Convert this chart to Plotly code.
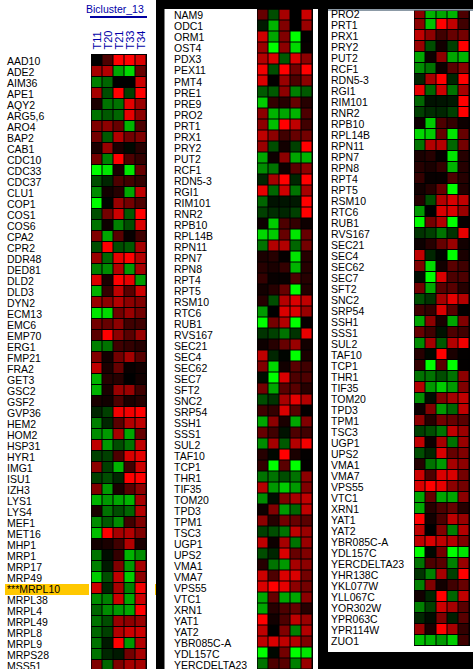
import plotly.graph_objects as go

W, H = 473, 669

columns = ["T11", "T20", "T21", "T33", "T34"]

genes_1 = ["AAD10","ADE2","AIM36","APE1","AQY2","ARG5,6","ARO4","BAP2","CAB1","CDC10","CDC33","CDC37","CLU1","COP1","COS1","COS6","CPA2","CPR2","DDR48","DED81","DLD2","DLD3","DYN2","ECM13","EMC6","EMP70","ERG1","FMP21","FRA2","GET3","GSC2","GSF2","GVP36","HEM2","HOM2","HSP31","HYR1","IMG1","ISU1","IZH3","LYS1","LYS4","MEF1","MET16","MHP1","MRP1","MRP17","MRP49","***MRPL10","MRPL38","MRPL4","MRPL49","MRPL8","MRPL9","MRPS28","MSS51"]

values_1 = [
[0,3,10,10,8.5],[6.5,7,-6.5,-8.5,4],[-5,-4,0,0,8],[6.5,-3,10,-2.5,10],[1,-4.5,-4.5,9,6],
[-4.5,-3.5,-4,9,5.5],[5,5.5,4,-7,3],[4.5,-3.5,7,4.5,5],[1,6,1,-0.3,1.5],[4.5,-5,10,3,2],
[-10,-9,1,-9,4],[-3,-1.5,3,2.5,2],[-5.5,0.7,1.5,-6.5,7.5],[-10,-0.2,6,4.5,3],[-3,4.5,8,-3.5,10],
[-4.5,0.5,-5,-3,8.5],[5,-6.5,3.5,0.3,2.5],[-3,10,-3,-3.5,6.5],[6,-4,9,10,7],[-5,-5.5,7,-6,6.5],
[8.5,1,10,9,-6],[-7,2,7.5,3.5,8],[6,5.5,7,5.5,5],[-9,-8.5,4.5,6,4.5],[4.5,4,5.5,2.5,2.5],
[3.5,10,5.5,3.5,6],[-5,-4.5,2.5,2,1.5],[5,0.7,4.5,6.5,3.5],[7.5,1,4,0.3,0.7],[-7,1.5,1.5,0,0.7],
[-7,1,6,6,2.5],[1,0.7,3,1,1.5],[-1.5,-2.5,9.5,9.5,10],[-5,-1.5,3.5,7,7.5],[-5.5,-6,6.5,-6.5,4],
[7.5,-6,-3,-4.5,7.5],[-2.5,-2.5,3,8.5,9],[5.5,-2.5,-7,2.5,8],[-2.5,-3,-1.5,10,10],[5,-6,1,3.5,5.5],
[-7,-6,-6.5,-7,6.5],[1,-4.5,-3,-4,7],[-5.5,-3.5,-5.5,2.5,5],[-7.5,10,6.5,7,5],[0.7,1,2.5,7,1],
[-4.5,-0.5,2,-7,-5.5],[-5,-1,5,-6,6.5],[-8,-3,7.5,-8,5.5],[8,-1.5,6.5,-5,9.5],[-5.5,-5,8,-6.5,8],
[-4,-5.5,-6,-6.5,10],[-4.5,-3,6,5.5,6],[-4,-2.5,7,8,8],[-4.5,-1,10,-6,7],[-4.5,-1.5,-1,4.5,6.5],
[5,-4,5,6.5,6.5],
]

genes_2 = ["NAM9","ODC1","ORM1","OST4","PDX3","PEX11","PMT4","PRE1","PRE9","PRO2","PRT1","PRX1","PRY2","PUT2","RCF1","RDN5-3","RGI1","RIM101","RNR2","RPB10","RPL14B","RPN11","RPN7","RPN8","RPT4","RPT5","RSM10","RTC6","RUB1","RVS167","SEC21","SEC4","SEC62","SEC7","SFT2","SNC2","SRP54","SSH1","SSS1","SUL2","TAF10","TCP1","THR1","TIF35","TOM20","TPD3","TPM1","TSC3","UGP1","UPS2","VMA1","VMA7","VPS55","VTC1","XRN1","YAT1","YAT2","YBR085C-A","YDL157C","YERCDELTA23"]

values_2 = [
[4,-3,6.5,0,8],[-1,-7,5,0,6],[8,-6.5,5,-10,0.1],[6,-10,5.5,-8.5,0.3],[7,8.5,-3.5,8.5,5.5],
[9.5,-3,10,4.5,10],[8.5,0.1,6,3,5.5],[-3.5,-3.5,5.5,-5,-3.5],[-8,2,1.5,4,1.5],[5.5,-7,-6.5,-7,3],
[5.5,-7.5,10,7.5,2.5],[7.5,5.5,2.5,4,4.5],[6,-3,0.7,-2.5,10],[-6.5,0.5,5.5,-6.5,-7],[-5.5,-4.5,0.5,3.5,5.5],
[-1.5,6.5,10,-1.5,10],[9,-4,8,-4.5,6.5],[-4,-0.7,-0.8,-1,10],[-2.5,-1.7,-1.5,-2.5,10],[0.5,-8,3,2,0.5],
[-8.5,-8,4,-9,4],[-4.5,7,7,-4,4.5],[1,1.5,0.2,-9,1.5],[1.5,1,2,-7,1.5],[2,0.3,0.3,3,1.5],
[0.7,1.5,4,-10,1.3],[1.5,-3,7,8.5,7.5],[-6,0,8.5,8.5,6],[-10,4.5,7,-10,0.2],[-2,-2.5,-4.5,-2,9],
[0.5,1.5,4,6,0.7],[7.5,-1.5,-0.2,-10,1],[5,-8.5,0.7,3.5,2.5],[-0.5,-10,8.5,3,3],[4.5,-6.5,3.5,3.5,1.5],
[-3,-2,6.5,9,7],[2.5,2,8.5,3.5,0.1],[-6.5,5.5,1,-6.5,5],[4,2.5,-0.7,3,2.5],[-5.5,6.5,-3.5,7,9.5],
[1.5,-0.3,10,1,0.1],[2,-10,3.5,-10,0.1],[-4.5,-4.5,-3,-4.5,5.5],[7,-6,-8,-6,5],[-5.5,-0.5,5,6.5,7.5],
[0.5,5,-6,-4,7.5],[5.5,1.5,4.5,4,3.5],[-2.5,-3,-4.5,7.5,6],[7.5,0.5,6.5,-4.5,6],[-3,-1.5,8.5,4,5],
[1.5,-4.5,-6,6.5,5.5],[8,3,8.5,8.5,4.5],[8.5,10,9,5.5,4.5],[-6.5,4,-6.5,-6.5,5.5],[-6.5,1.5,3,4,1.5],
[10,0.7,3,7.5,6],[7.5,0,5,-5,7],[7.5,8.5,7.5,7,5],[-10,-0.3,4.5,-10,-9],[-4.5,3,3.5,-5,6],
]

genes_3_extra = ["YHR138C","YKL077W","YLL067C","YOR302W","YPR063C","YPR114W","ZUO1"]

values_3_extra = [
[-2,-5,6.5,-2.5,10],[-5,5,0.7,2.5,4],[0.7,-1.5,10,-4,7.5],[-5,-2.5,8,6.5,3.5],
[-1.5,-0.5,5,-1.2,3.5],[6,1,10,6.5,2],[-7.5,-7,-6,-8,2.5],
]

genes_3 = genes_2[9:] + genes_3_extra
values_3 = values_2[9:] + values_3_extra

bicluster_title = "Bicluster_13"

BLUE = "#0000A8"
scale = [[0, "#00FF00"], [0.5, "#000000"], [1, "#FF0000"]]
FONT = "Liberation Sans"


def px(x):
    return x / W


def py(y):
    return 1 - y / H


def rect(x0, y0, x1, y1, color, layer="below"):
    return dict(type="rect", xref="paper", yref="paper", x0=px(x0), x1=px(x1),
                y0=py(y0), y1=py(y1), fillcolor=color, line_width=0, layer=layer)


# panel geometry: matrix x0, x1, y top, y bottom, range top, range bottom, label x
panels = [
    (genes_1, values_1, 91.5, 146.5, 55, 669, -0.5, 55.318, 7),
    (genes_2, values_2, 257.5, 312.5, 9.5, 669, -0.5, 59.45, 173.5),
    (genes_3, values_3, 414.5, 469.5, 11, 645.5, -0.227, 57.5, 330.5),
]

fig = go.Figure()
shapes = [
    rect(0, 0, 156, 669, "#FFFFFF"),
    rect(164.5, 9, 318, 669, "#FFFFFF"),
    rect(328, 11, 473, 652, "#FFFFFF"),
    rect(328, 9, 473, 11, "#8C9AA6"),
    rect(5, 584, 89, 595, "#FFC800"),
    rect(155, 584, 156, 595, "#FFC800"),
    rect(90, 16, 147, 18, "#0000A0"),
]
annotations = [dict(text=bicluster_title, xref="paper", yref="paper", x=px(114.5), y=py(8.5),
                    xanchor="center", yanchor="middle", showarrow=False,
                    font=dict(family=FONT, size=10.5, color=BLUE))]

for i, (genes, vals, x0, x1, yt, yb, r0, r1, lx) in enumerate(panels):
    n = "" if i == 0 else str(i + 1)
    shapes.append(rect(x0 - 0.5, yt - (0.5 if i else 1), x1 + 0.5, min(yb + 0.5, H), "#000000"))
    fig.add_trace(go.Heatmap(z=vals, x=columns, y=genes, zmin=-10, zmax=10, colorscale=scale,
                             showscale=False, xgap=1, ygap=1, hoverongaps=False,
                             xaxis="x" + n, yaxis="y" + n))
    fig.update_layout(**{
        "xaxis" + n: dict(domain=[px(x0), px(x1)], visible=False, type="category",
                          range=[-0.5, 4.5], anchor="y" + n),
        "yaxis" + n: dict(domain=[py(yb), py(yt)], visible=False, type="category",
                          range=[r1, r0], anchor="x" + n),
    })
    for g in genes:
        annotations.append(dict(text=g, xref="paper", yref="y" + n, x=px(lx), y=g,
                                xanchor="left", yanchor="middle", showarrow=False,
                                borderpad=0, borderwidth=0, yshift=-0.5,
                                font=dict(family=FONT, size=10.5, color="#000000")))

for c in columns:
    annotations.append(dict(text=c, xref="x", yref="paper", x=c, y=py(40.5), textangle=-90,
                            xanchor="center", yanchor="middle", showarrow=False,
                            font=dict(family=FONT, size=11, color=BLUE)))

fig.update_layout(width=W, height=H, margin=dict(l=0, r=0, t=0, b=0), autosize=False,
                  paper_bgcolor="#000000", plot_bgcolor="#000000",
                  shapes=shapes, annotations=annotations, showlegend=False)

fig.write_html("out.html", config={"displayModeBar": False},
               post_script="document.body.style.margin='0';document.body.style.overflow='hidden';")
